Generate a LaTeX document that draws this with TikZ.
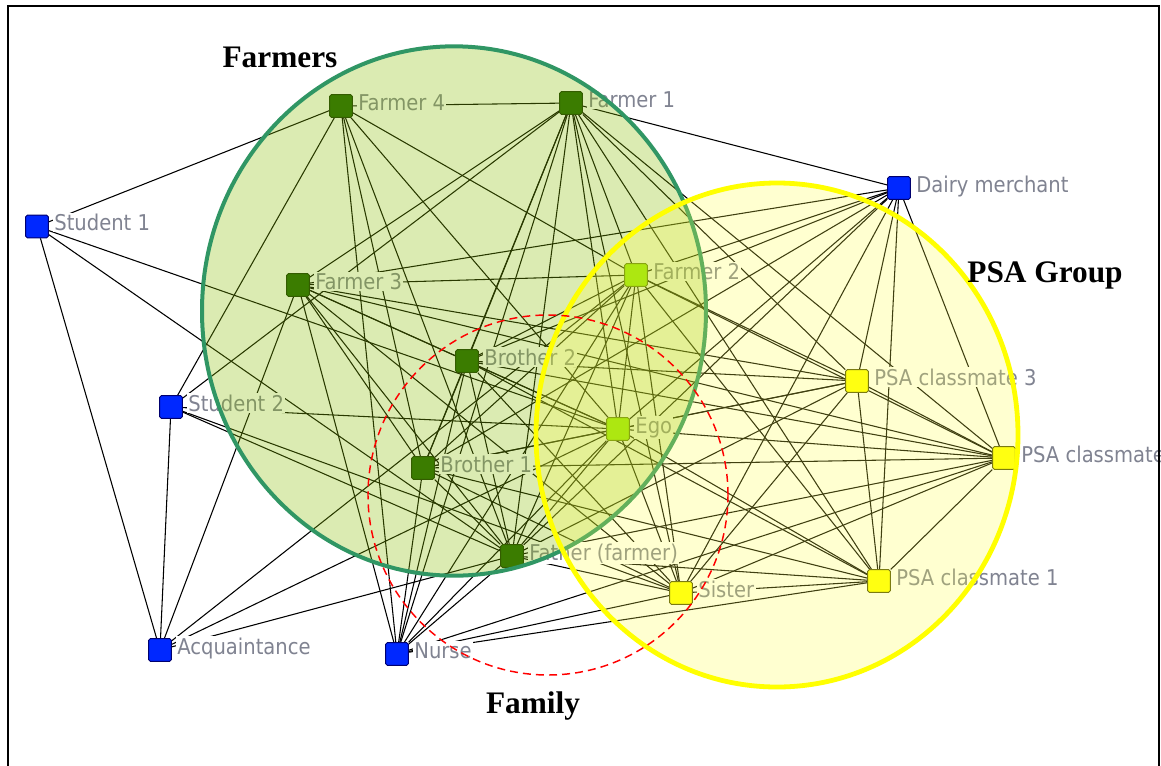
\documentclass[tikz,border=0pt]{standalone}
\usepackage{fontspec}
\newfontfamily\lblfont{DejaVu Sans Condensed}
\newfontfamily\ttlfont{Liberation Serif}
\pgfdeclarelayer{edgelayer}
\pgfdeclarelayer{overlaylayer}
\pgfdeclarelayer{toplayer}
\pgfsetlayers{edgelayer,main,overlaylayer,toplayer}
\definecolor{nblue}{RGB}{0,40,255}
\definecolor{nblueD}{RGB}{0,0,110}
\definecolor{nfarm}{RGB}{25,95,0}
\definecolor{nfarmD}{RGB}{15,50,0}
\definecolor{nlime}{RGB}{150,238,0}
\definecolor{nlimeD}{RGB}{80,110,0}
\definecolor{nyel}{RGB}{255,255,0}
\definecolor{nyelD}{RGB}{80,80,0}
\definecolor{lblgray}{RGB}{128,131,145}
\definecolor{gfill}{RGB}{138,192,0}
\definecolor{gline}{RGB}{48,150,100}
\definecolor{yfill}{RGB}{255,255,68}
\definecolor{yline}{RGB}{255,255,0}
\tikzset{
  nd/.style={rectangle, draw, minimum size=17pt, inner sep=0pt, rounded corners=1.2pt, line width=0.7pt},
  bluen/.style={nd, fill=nblue, draw=nblueD},
  farmn/.style={nd, fill=nfarm, draw=nfarmD},
  limen/.style={nd, fill=nlime, draw=nlimeD},
  yeln/.style={nd, fill=nyel, draw=nyelD},
  lbl/.style={anchor=base west, fill=white, inner sep=1pt, text=lblgray, font=\lblfont\fontsize{16.3}{18}\selectfont},
  edge/.style={line width=0.8pt, black},
  ttl/.style={anchor=base, font=\ttlfont\bfseries\fontsize{23.5}{26}\selectfont, text=black},
}
\begin{document}
\begin{tikzpicture}[x=0.75pt,y=-0.75pt]
\clip (0,0) rectangle (1161,765);
\begin{pgfonlayer}{edgelayer}
  \fill[white] (0,0) rectangle (1161,765);
\end{pgfonlayer}
% nodes
\node[farmn] (F4) at (341,106) {};
\node[farmn] (F1) at (571,103) {};
\node[bluen] (S1) at (37,226.5) {};
\node[bluen] (DM) at (899,188) {};
\node[farmn] (F3) at (298,285) {};
\node[limen] (F2) at (636,275) {};
\node[farmn] (B2) at (467,361) {};
\node[bluen] (S2) at (171,407) {};
\node[yeln] (P3) at (857,381) {};
\node[limen] (E) at (618,429) {};
\node[farmn] (B1) at (423,468) {};
\node[yeln] (P2) at (1004,458) {};
\node[farmn] (Fa) at (512,556) {};
\node[yeln] (P1) at (879,581) {};
\node[yeln] (Si) at (681,593) {};
\node[bluen] (Ac) at (160,650) {};
\node[bluen] (N) at (397,654) {};
% labels
\node[lbl] (F4l) at ([xshift=3pt,yshift=-3pt]F4.east) {Farmer 4};
\node[lbl] (F1l) at ([xshift=3pt,yshift=-3pt]F1.east) {Farmer 1};
\node[lbl] (S1l) at ([xshift=3pt,yshift=-3pt]S1.east) {Student 1};
\node[lbl] (DMl) at ([xshift=3pt,yshift=-3pt]DM.east) {Dairy merchant};
\node[lbl] (F3l) at ([xshift=3pt,yshift=-3pt]F3.east) {Farmer 3};
\node[lbl] (F2l) at ([xshift=3pt,yshift=-3pt]F2.east) {Farmer 2};
\node[lbl] (B2l) at ([xshift=3pt,yshift=-3pt]B2.east) {Brother 2};
\node[lbl] (S2l) at ([xshift=3pt,yshift=-3pt]S2.east) {Student 2};
\node[lbl] (P3l) at ([xshift=3pt,yshift=-3pt]P3.east) {PSA classmate 3};
\node[lbl] (El) at ([xshift=3pt,yshift=-3pt]E.east) {Ego};
\node[lbl] (B1l) at ([xshift=3pt,yshift=-3pt]B1.east) {Brother 1};
\node[lbl] (P2l) at ([xshift=3pt,yshift=-3pt]P2.east) {PSA classmate};
\node[lbl] (Fal) at ([xshift=3pt,yshift=-3pt]Fa.east) {Father (farmer)};
\node[lbl] (P1l) at ([xshift=3pt,yshift=-3pt]P1.east) {PSA classmate 1};
\node[lbl] (Sil) at ([xshift=3pt,yshift=-3pt]Si.east) {Sister};
\node[lbl] (Acl) at ([xshift=3pt,yshift=-3pt]Ac.east) {Acquaintance};
\node[lbl] (Nl) at ([xshift=3pt,yshift=-3pt]N.east) {Nurse};
% edges
\begin{pgfonlayer}{edgelayer}
\foreach \a/\b in {S1/F4, S1/Ac, S1/E, S1/Fa,
  S2/Ac, S2/F4, S2/E, S2/Fa, S2/F1, S2/Si,
  Ac/F3, Ac/F2, Ac/E, Ac/Fa,
  N/F1, N/F4, N/F3, N/B1, N/B2, N/Fa, N/E, N/F2, N/Si, N/P1, N/P2,
  F4/F1, F4/B1, F4/Fa, F4/F2, F4/E,
  F1/DM, F1/F3, F1/B2, F1/B1, F1/Fa, F1/E, F1/Si, F1/F2, F1/P3, F1/P2, F1/P1,
  F3/F2, F3/DM, F3/B2, F3/B1, F3/E, F3/Fa, F3/Si, F3/P3, F3/P2,
  F2/DM, F2/P3, F2/P2, F2/P1, F2/E, F2/Si, F2/Fa, F2/B1, F2/B2,
  B2/E, B2/B1, B2/Fa, B2/Si, B2/P3, B2/P2, B2/P1, B2/DM,
  B1/E, B1/Fa, B1/Si, B1/P3, B1/P2, B1/P1, B1/DM,
  E/Fa, E/Si, E/DM, E/P3, E/P2, E/P1,
  Fa/Si, Fa/DM, Fa/P3, Fa/P2, Fa/P1,
  Si/DM, Si/P3, Si/P2, Si/P1,
  DM/P3, DM/P2, DM/P1,
  P3/P2, P3/P1, P2/P1}
  \draw[edge] (\a) -- (\b);
\end{pgfonlayer}
% group overlays
\begin{pgfonlayer}{overlaylayer}
  \path[fill=gfill, fill opacity=0.3, draw=gline, line width=3pt] (454,311) ellipse [x radius=189pt, y radius=198.5pt];
  \path[fill=yfill, fill opacity=0.25, draw=yline, line width=3.6pt] (777,435) ellipse [x radius=180.75pt, y radius=189pt];
\end{pgfonlayer}
\begin{pgfonlayer}{toplayer}
  \draw[red, line width=1.1pt, dash pattern=on 6pt off 3.8pt] (548,495) ellipse [x radius=135pt, y radius=135pt];
  \node[ttl] (tF) at (280,67) {Farmers};
  \node[ttl] (tP) at (1045,282) {PSA Group};
  \node[ttl] (tFam) at (533,713) {Family};
  \draw[black, line width=1.5pt] (8,6) rectangle (1159,900);
\end{pgfonlayer}
\end{tikzpicture}
\end{document}
